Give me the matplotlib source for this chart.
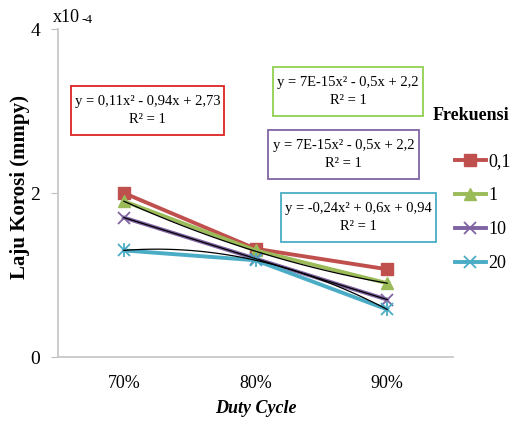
import numpy as np
import matplotlib
matplotlib.use("Agg")
import matplotlib.pyplot as plt
from matplotlib.lines import Line2D
from matplotlib.patches import Rectangle

plt.rcParams['font.family'] = ['Liberation Serif', 'DejaVu Serif']

# Data laju korosi (x10^-4 mmpy) per duty cycle
duty_cycle = ['70%', '80%', '90%']
frekuensi = ['0,1', '1', '10', '20']
laju_01 = [2.0, 1.32, 1.07]
laju_1 = [1.9, 1.3, 0.9]
laju_10 = [1.7, 1.2, 0.7]
laju_20 = [1.3, 1.18, 0.58]

# Koefisien trendline polinomial orde 2 (a, b, c)
trend_merah = [0.11, -0.94, 2.73]
trend_ungu = [0.0, -0.5, 2.2]
trend_biru = [-0.24, 0.6, 0.94]

W, H = 513, 426
fig = plt.figure(figsize=(W / 100, H / 100), dpi=100)
ax = fig.add_axes([58 / W, 1 - 357 / H, 395 / W, 328 / H])

x = np.arange(1, len(duty_cycle) + 1)
warna = ['#C0504D', '#9BBB59', '#8064A2', '#4BACC6']

ax.plot(x, laju_01, color=warna[0], lw=2.8, marker='s', ms=8.5, zorder=3)
ax.plot(x, laju_1, color=warna[1], lw=2.8, marker='^', ms=8.5, zorder=3)
ax.plot(x, laju_10, color=warna[2], lw=2.8, marker='x', ms=8, mew=1.3, zorder=3)
ax.plot(x, laju_20, color=warna[3], lw=2.8, marker='x', ms=8, mew=1.3, zorder=3)
ax.plot(x, laju_20, color=warna[3], lw=0, marker='|', ms=10, mew=1.3, zorder=3)

# trendline hitam tipis
xs = np.linspace(1, 3, 100)
for koef in [trend_merah, trend_ungu, trend_biru]:
    ax.plot(xs, np.polyval(koef, xs), color='black', lw=0.9, zorder=4)

ax.set_xlim(0.5, 3.5)
ax.set_ylim(0, 4)
ax.set_xticks(x)
ax.set_xticklabels(duty_cycle, fontsize=13)
ax.set_yticks([0, 2, 4])
ax.set_yticklabels(['0', '2', '4'], fontsize=14)
ax.tick_params(axis='x', length=0, pad=13)
ax.tick_params(axis='y', length=5, color='#BFBFBF', pad=8)
for s in ['top', 'right']:
    ax.spines[s].set_visible(False)
for s in ['left', 'bottom']:
    ax.spines[s].set_color('#C8C8C8')
    ax.spines[s].set_linewidth(1.3)

ax.set_xlabel('Duty Cycle', fontsize=13, fontweight='bold', style='italic', labelpad=6)
fig.text(20 / W, 1 - 187 / H, 'Laju Korosi (mmpy)', rotation=90, fontsize=15,
         fontweight='bold', ha='center', va='center')

fig.text(53 / W, 1 - 17 / H, 'x10', fontsize=13, ha='left', va='center')
fig.text(81 / W, 1 - 20 / H, '-4', fontsize=9.5, ha='left', va='center')

# kotak persamaan trendline: (kiri, atas, kanan, bawah) dalam piksel
kotak = [
    ((71, 86, 224, 135), 'y = 0,11x² - 0,94x + 2,73\nR² = 1', '#DD2222'),
    ((273, 67, 423, 116), 'y = 7E-15x² - 0,5x + 2,2\nR² = 1', '#92D050'),
    ((268, 130, 419, 179), 'y = 7E-15x² - 0,5x + 2,2\nR² = 1', '#8064A2'),
    ((281, 193, 436, 242), 'y = -0,24x² + 0,6x + 0,94\nR² = 1', '#4BACC6'),
]
for (x0, y0, x1, y1), teks, ec in kotak:
    fig.patches.append(Rectangle((x0 / W, 1 - y1 / H), (x1 - x0) / W, (y1 - y0) / H,
                                 transform=fig.transFigure, fc='white', ec=ec, lw=1.3,
                                 zorder=5))
    fig.text((x0 + x1) / 2 / W, 1 - (y0 + y1) / 2 / H, teks, fontsize=10.5,
             ha='center', va='center', multialignment='center', linespacing=1.55,
             zorder=6)

# legenda
fig.text(433 / W, 1 - 115 / H, 'Frekuensi', fontsize=13, fontweight='bold',
         ha='left', va='center')
handles = [
    Line2D([], [], color=warna[0], lw=2.8, marker='s', ms=8.5),
    Line2D([], [], color=warna[1], lw=2.8, marker='^', ms=8.5),
    Line2D([], [], color=warna[2], lw=2.8, marker='x', ms=8, mew=1.3),
    Line2D([], [], color=warna[3], lw=2.8, marker='x', ms=8, mew=1.3),
]
fig.legend(handles, frekuensi, loc='upper left', bbox_to_anchor=(455 / W, 1 - 153 / H),
           frameon=False, fontsize=13, handlelength=1.7, handletextpad=0.15,
           labelspacing=0.95, borderpad=0, borderaxespad=0)

fig.savefig('out.png', dpi=100)
